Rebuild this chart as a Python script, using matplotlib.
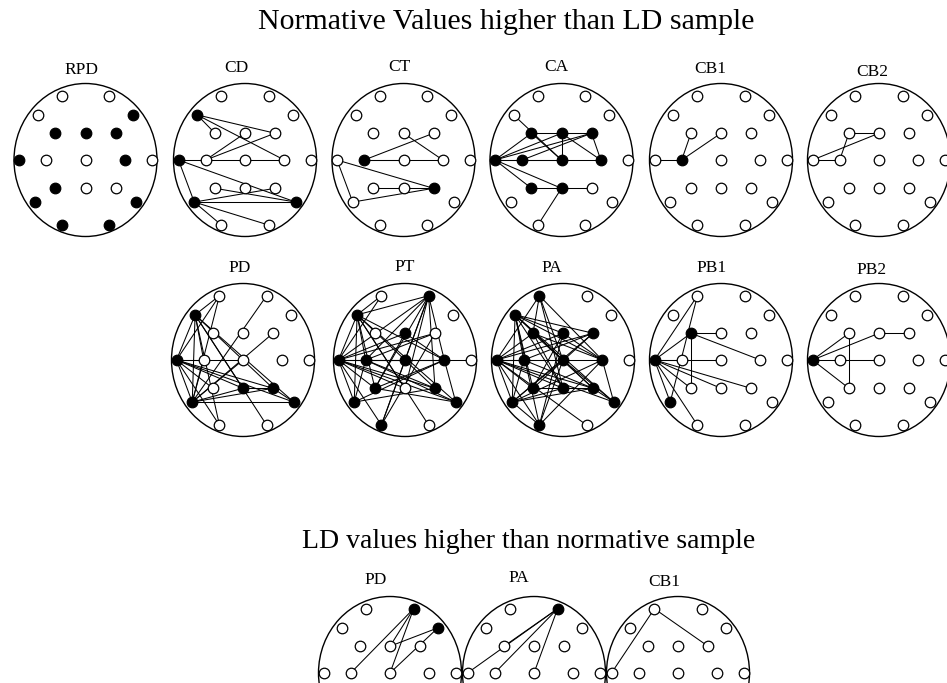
import matplotlib
matplotlib.use("Agg")
import matplotlib.pyplot as plt
from matplotlib.patches import Circle

plt.rcParams['font.family'] = ['Liberation Serif', 'DejaVu Serif']

# === 10-20 montage (x to the right, y downwards, head radius = 1) ===
electrodes = ['Fp1', 'Fp2', 'F7', 'F3', 'Fz', 'F4', 'F8', 'T3', 'C3', 'Cz',
              'C4', 'T4', 'T5', 'P3', 'Pz', 'P4', 'T6', 'O1', 'O2']
elec_x = [-0.33, 0.33, -0.67, -0.42, 0.0, 0.42, 0.67, -0.93, -0.55, 0.0,
          0.55, 0.93, -0.71, -0.42, 0.0, 0.42, 0.71, -0.33, 0.33]
elec_y = [-0.84, -0.84, -0.59, -0.35, -0.35, -0.35, -0.59, 0.0, 0.0, 0.0,
          0.0, 0.0, 0.55, 0.37, 0.37, 0.37, 0.55, 0.85, 0.85]

# === Normative > LD ===
rpd_filled = ['F8', 'F3', 'Fz', 'F4', 'T3', 'C4', 'T5', 'P3', 'T6', 'O1', 'O2']
rpd_links = []

cd_filled = ['F7', 'T3', 'T5', 'T6']
cd_links = ['F7-F3', 'F7-F4', 'F7-C4', 'C3-Fz', 'C3-F4', 'T3-C4', 'T3-T6',
            'T3-T5', 'T5-T6', 'P3-T6', 'T5-P4', 'T5-O1', 'T5-O2']

ct_filled = ['C3', 'P4']
ct_links = ['C3-F4', 'C3-Cz', 'C3-C4', 'Fz-C4', 'T3-P4', 'T3-T5', 'T5-P4', 'P3-P4']

ca_filled = ['F3', 'Fz', 'F4', 'T3', 'C3', 'Cz', 'C4', 'P3', 'Pz']
ca_links = ['F7-Cz', 'T3-F3', 'T3-Fz', 'T3-F4', 'T3-C3', 'T3-Cz', 'T3-P3',
            'T3-Pz', 'F3-F4', 'Fz-Cz', 'Fz-C4', 'F4-C4', 'C3-F4', 'C3-C4',
            'F3-Cz', 'P3-Pz', 'Pz-P4', 'Pz-O1']

cb1_filled = ['C3']
cb1_links = ['C3-T3', 'C3-F3', 'C3-Fz']

cb2_filled = []
cb2_links = ['F3-Fz', 'T3-C3', 'T3-Fz', 'F3-C3']

pd_filled = ['F7', 'T3', 'T5', 'Pz', 'P4', 'T6']
pd_links = ['F7-Fp1', 'T3-Fp1', 'T5-Fp1', 'Fp2-T5', 'F4-T5', 'F7-T3', 'F7-T5',
            'F7-C3', 'F7-Pz', 'F7-P4', 'F7-T6', 'F7-O1', 'F7-O2', 'T3-T5',
            'T3-C3', 'T3-P3', 'T3-Pz', 'T3-P4', 'T3-T6', 'T3-O1', 'T3-Cz',
            'T5-Cz', 'T5-Pz', 'T5-P4', 'T5-T6', 'T5-C3', 'Pz-P4', 'P4-T6']

pt_filled = ['Fp2', 'F7', 'Fz', 'T3', 'C3', 'Cz', 'C4', 'P3', 'P4', 'T5', 'T6', 'O1']
pt_links = ['Fp2-F7', 'Fp2-T3', 'Fp2-C3', 'Fp2-P3', 'Fp2-Cz', 'Fp2-C4', 'Fp2-P4',
            'Fp2-Pz', 'Fp2-O1', 'F7-Fp1', 'F7-T3', 'F7-C3', 'F7-P3', 'F7-T5',
            'F7-C4', 'F7-P4', 'F7-T6', 'F7-O2', 'F7-Pz', 'Fp1-T3', 'Fz-T3',
            'Fz-P3', 'Fz-C4', 'T3-F4', 'T3-Cz', 'T3-C4', 'T3-T4', 'T3-P4',
            'T3-T6', 'T3-T5', 'T3-O1', 'T3-Pz', 'T3-P3', 'C3-C4', 'C3-P4',
            'C3-T6', 'C3-F4', 'C3-T5', 'Cz-O1', 'C4-T5', 'C4-T6', 'P3-T6',
            'P3-C4', 'T5-P4', 'O1-F4']

pa_filled = ['Fp1', 'F7', 'F3', 'Fz', 'F4', 'T3', 'C3', 'Cz', 'C4', 'P3', 'Pz',
             'P4', 'T5', 'T6', 'O1']
pa_links = ['T3-Fp1', 'T3-F3', 'T3-Fz', 'T3-F4', 'T3-C3', 'T3-Cz', 'T3-C4',
            'T3-P3', 'T3-Pz', 'T3-P4', 'T3-T5', 'T3-T6', 'T3-O1', 'T3-O2',
            'F7-Fz', 'F7-F4', 'F7-C3', 'F7-Cz', 'F7-C4', 'F7-P3', 'F7-Pz',
            'F7-P4', 'F7-T5', 'F7-T6', 'F7-O1', 'Fp1-F3', 'Fp1-Cz', 'Fp1-Pz',
            'Fp1-C4', 'T5-C3', 'T5-Cz', 'T5-C4', 'T5-Pz', 'T5-P4', 'T5-O1',
            'T5-F4', 'O1-Cz', 'O1-C4', 'O1-Fz', 'F3-C4', 'F3-P4', 'F3-Pz',
            'Fz-P3', 'Fz-C4', 'F4-C3', 'F4-P3', 'C3-P4', 'Cz-T6', 'C4-T6',
            'P3-P4', 'P4-T6']

pb1_filled = ['T3', 'F3', 'T5']
pb1_links = ['T3-Fp1', 'T3-F3', 'T3-C3', 'T3-Cz', 'T3-P3', 'T3-Pz', 'T3-P4',
             'T3-T5', 'T3-O1', 'F3-C4', 'F3-Fz', 'F3-P3', 'Fp1-T5']

pb2_filled = ['T3']
pb2_links = ['T3-F3', 'T3-Fz', 'T3-Cz', 'T3-P3', 'Fz-F4', 'F3-P3']

# === LD > Normative ===
ld_pd_filled = ['Fp2', 'F8']
ld_pd_links = ['Fp2-C3', 'Fp2-Cz', 'Fp2-Fz', 'F8-Fz', 'F8-Cz']

ld_pa_filled = ['Fp2']
ld_pa_links = ['Fp2-T3', 'Fp2-C3', 'Fp2-Cz', 'Fp2-F3']

ld_cb1_filled = []
ld_cb1_links = ['Fp1-F4', 'Fp1-T3']

# === Layout (pixels of a 947x683 canvas) ===
W, H = 947, 683
head_w, head_h = 143, 153
heads = [
    ('RPD', rpd_filled, rpd_links, (85.5, 160), (81, 70)),
    ('CD', cd_filled, cd_links, (245, 160), (236, 68)),
    ('CT', ct_filled, ct_links, (403.5, 160), (399, 67)),
    ('CA', ca_filled, ca_links, (561.5, 160), (556, 67)),
    ('CB1', cb1_filled, cb1_links, (721, 160), (710, 69)),
    ('CB2', cb2_filled, cb2_links, (879, 160), (872, 72)),
    ('PD', pd_filled, pd_links, (243, 360), (240, 268)),
    ('PT', pt_filled, pt_links, (405, 360), (405, 267)),
    ('PA', pa_filled, pa_links, (563, 360), (552, 268)),
    ('PB1', pb1_filled, pb1_links, (721, 360), (712, 268)),
    ('PB2', pb2_filled, pb2_links, (879, 360), (872, 270)),
    ('PD', ld_pd_filled, ld_pd_links, (390, 673), (376, 580)),
    ('PA', ld_pa_filled, ld_pa_links, (534, 673), (519, 578)),
    ('CB1', ld_cb1_filled, ld_cb1_links, (678, 673), (664, 582)),
]

pos = dict(zip(electrodes, zip(elec_x, elec_y)))

fig = plt.figure(figsize=(W / 100, H / 100), dpi=100)

for name, filled, links, (cx, cy), (lx, ly) in heads:
    ax = fig.add_axes([(cx - head_w / 2) / W, 1 - (cy + head_h / 2) / H,
                       head_w / W, head_h / H])
    ax.set_xlim(-1, 1)
    ax.set_ylim(1, -1)
    ax.axis('off')
    ax.add_patch(Circle((0, 0), 1, fill=False, ec='black', lw=1.0, clip_on=False))
    for link in links:
        a, b = link.split('-')
        ax.plot([pos[a][0], pos[b][0]], [pos[a][1], pos[b][1]],
                color='black', lw=0.75, clip_on=False, zorder=2)
    for e in electrodes:
        face = 'black' if e in filled else 'white'
        ax.plot(pos[e][0], pos[e][1], 'o', ms=7.6, mfc=face, mec='black',
                mew=0.9, clip_on=False, zorder=3)
    fig.text(lx / W, 1 - ly / H, name, ha='center', va='center', fontsize=12.5)

fig.text(506 / W, 1 - 22 / H, 'Normative Values higher than LD sample',
         ha='center', va='center', fontsize=21.5)
fig.text(529 / W, 1 - 541 / H, 'LD values higher than normative sample',
         ha='center', va='center', fontsize=20)

fig.savefig('out.png', dpi=100)
